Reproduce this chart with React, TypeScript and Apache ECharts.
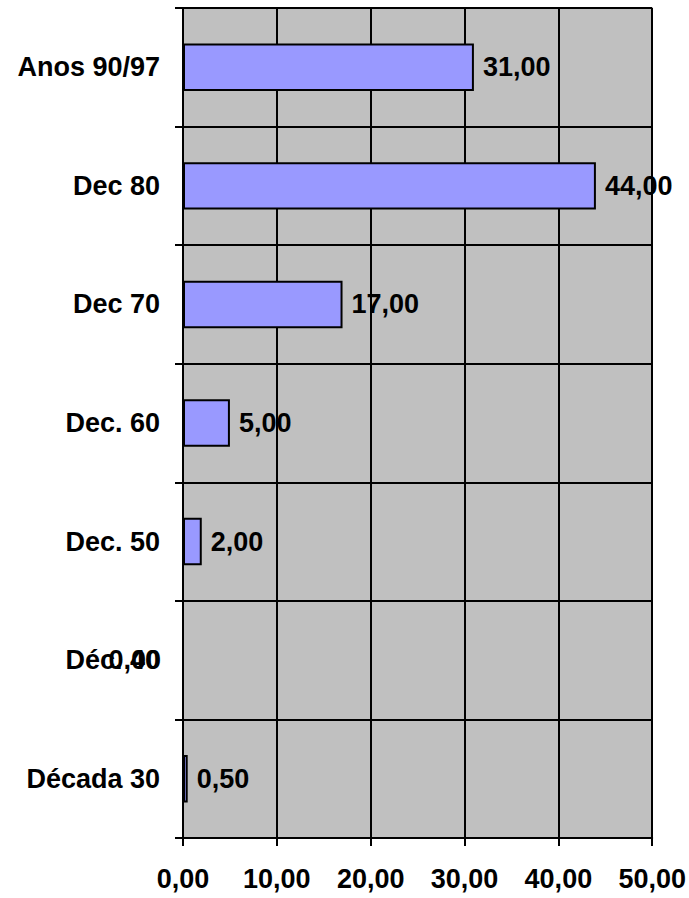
import React, { useEffect, useRef } from "react";
import * as echarts from "echarts";

const categories = ["Década 30", "Déc. 40", "Dec. 50", "Dec. 60", "Dec 70", "Dec 80", "Anos 90/97"];
const values = [0.5, 0, 2, 5, 17, 44, 31];
const xTicks = [0, 10, 20, 30, 40, 50];

const fmt = (v: number) => v.toFixed(2).replace(".", ",");

export default function App() {
  const ref = useRef<HTMLDivElement>(null);
  useEffect(() => {
    if (!ref.current) return;
    const chart = echarts.init(ref.current, null, { renderer: "svg" });
    const font = { fontFamily: "Liberation Sans, Arial, sans-serif", fontWeight: "bold" as const, fontSize: 27, color: "#000" };
    chart.setOption({
      animation: false,
      grid: {
        left: 183,
        right: 34,
        top: 8,
        bottom: 60,
        show: true,
        backgroundColor: "#C0C0C0",
        borderColor: "#808080",
        borderWidth: 1,
      },
      xAxis: {
        type: "value",
        min: xTicks[0],
        max: xTicks[xTicks.length - 1],
        interval: 10,
        axisLine: { show: true, lineStyle: { color: "#000", width: 2 } },
        axisTick: { show: true, length: 8, lineStyle: { color: "#000", width: 2 } },
        splitLine: { show: true, lineStyle: { color: "#000", width: 2 } },
        axisLabel: { ...font, margin: 27, formatter: (v: number) => fmt(v) },
      },
      yAxis: {
        type: "category",
        data: categories,
        axisLine: { show: true, lineStyle: { color: "#000", width: 2 } },
        axisTick: { show: true, length: 8, alignWithLabel: false, lineStyle: { color: "#000", width: 2 } },
        splitLine: { show: true, lineStyle: { color: "#000", width: 2 } },
        axisLabel: { ...font, margin: 23, align: "right" },
      },
      series: [
        {
          type: "bar",
          data: values.map((v) =>
            v === 0
              ? { value: v, label: { position: "left", distance: 21 } }
              : v
          ),
          barWidth: "40%",
          itemStyle: { color: "#9999FF", borderColor: "#000", borderWidth: 2 },
          label: {
            show: true,
            position: "right",
            distance: 9,
            ...font,
            formatter: (p: any) => fmt(p.value),
          },
        },
      ],
    });
    return () => chart.dispose();
  }, []);
  return <div ref={ref} style={{ width: 689, height: 898, position: "absolute", left: 0, top: 0 }} />;
}
